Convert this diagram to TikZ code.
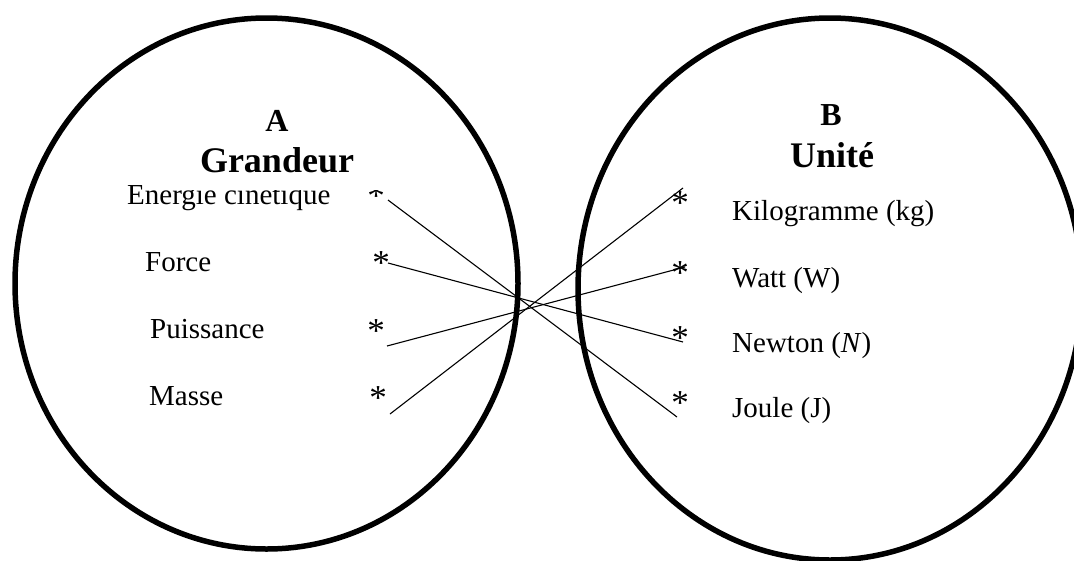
\documentclass[tikz,border=0pt]{standalone}
\usepackage{fontspec}
\setmainfont{Liberation Serif}
\begin{document}
\begin{tikzpicture}[x=1pt,y=-1pt,
  ring/.style={draw=black,line width=5.5pt},
  item/.style={inner sep=0pt,anchor=base west,font=\fontsize{29}{32}\selectfont},
  star/.style={inner sep=0pt,anchor=base,font=\fontsize{35}{38}\selectfont},
  letter/.style={inner sep=0pt,anchor=base,font=\fontsize{32}{36}\selectfont\bfseries},
  title/.style={inner sep=0pt,anchor=base,font=\fontsize{36}{40}\selectfont\bfseries},
  link/.style={draw=black,line width=1.1pt}]
\useasboundingbox (0,0) rectangle (1074,560);
\fill[white] (0,0) rectangle (1074,560);
% ellipses
\draw[ring] (266.5,283.5) ellipse [x radius=251.5, y radius=265.5];
\draw[ring] (830,289) ellipse [x radius=252, y radius=271];
% left items
\node[item] (ec) at (127,204) {Energie cinetique};
\node[star] (sec) at (376,207.5) {*};
\fill[white] (148,168) rectangle (396,189.5);
\node[letter] (A) at (277,131) {A};
\node[title] (grand) at (277,172) {Grandeur};
\node[item] (force) at (145,271) {Force};
\node[star] (sf) at (381,274) {*};
\node[item] (puis) at (150,338) {Puissance};
\node[star] (sp) at (376,342) {*};
\node[item] (masse) at (149,405) {Masse};
\node[star] (sm) at (378,409) {*};
% right items
\node[letter] (B) at (831,125) {B};
\node[title] (unite) at (832,167) {Unité};
\node[star] (sk) at (680,214) {*};
\node[item] (kg) at (732,220) {Kilogramme (kg)};
\node[star] (sw) at (680,284) {*};
\node[item] (watt) at (732,287) {Watt (W)};
\node[star] (sn) at (680,349) {*};
\node[item] (newton) at (732,352) {Newton (\textit{N})};
\node[star] (sj) at (680,414) {*};
\node[item] (joule) at (732,417) {Joule (J)};
% line end points
\coordinate (e1) at (388,200);
\coordinate (e2) at (388,263);
\coordinate (e3) at (387,346);
\coordinate (e4) at (390,414);
\coordinate (f1) at (677,417);
\coordinate (f2) at (683,342);
\coordinate (f3) at (685,267);
\coordinate (f4) at (683,188);
\draw[link] (e1) -- (f1);
\draw[link] (e2) -- (f2);
\draw[link] (e3) -- (f3);
\draw[link] (e4) -- (f4);
\end{tikzpicture}
\end{document}
